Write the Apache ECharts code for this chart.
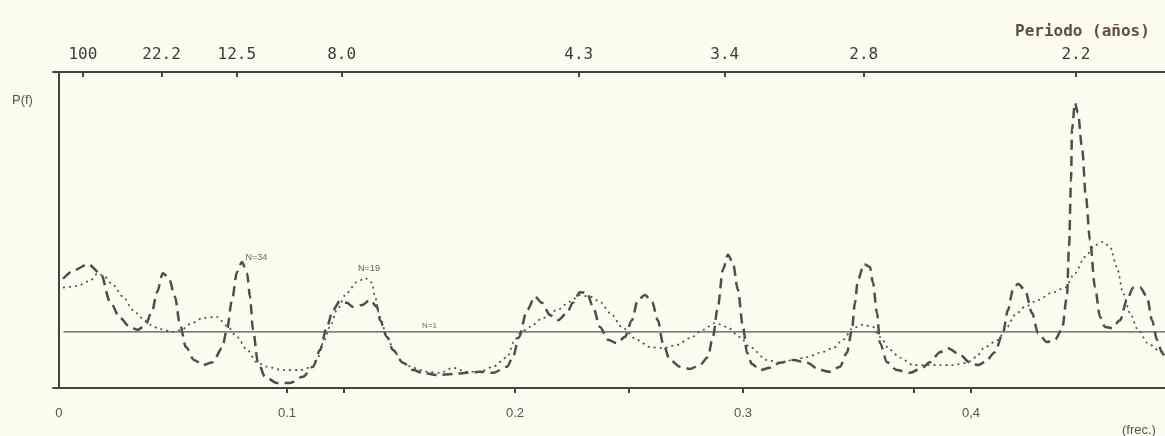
<!DOCTYPE html>
<html>
<head>
<meta charset="utf-8">
<script src="https://cdn.jsdelivr.net/npm/echarts@6/dist/echarts.min.js"></script>
<style>
  html, body { margin: 0; padding: 0; background: #fdfdef; }
  #spectro { width: 1165px; height: 436px; }
</style>
</head>
<body>
<div id="spectro"></div>
<script>
// frecuencia (ciclos/año) y densidad espectral P(f), nivel N=1 = 1
var n34Freq = [0.0018,0.0070,0.0127,0.0184,0.0224,0.0268,0.0311,0.0346,0.0377,0.0408,
  0.0430,0.0456,0.0482,0.0509,0.0531,0.0557,0.0592,0.0632,0.0675,0.0715,
  0.0737,0.0759,0.0781,0.0803,0.0825,0.0838,0.0851,0.0873,0.0904,0.0956,
  0.1013,0.1070,0.1114,0.1145,0.1175,0.1202,0.1232,0.1263,0.1289,0.1329,
  0.1364,0.1395,0.1408,0.1439,0.1465,0.1509,0.1553,0.1596,0.1658,0.1728,
  0.1789,0.1846,0.1904,0.1965,0.1991,0.2018,0.2053,0.2088,0.2118,0.2154,
  0.2189,0.2228,0.2254,0.2285,0.2316,0.2342,0.2373,0.2408,0.2447,0.2482,
  0.2513,0.2539,0.2570,0.2601,0.2627,0.2649,0.2680,0.2724,0.2768,0.2811,
  0.2846,0.2868,0.2890,0.2912,0.2934,0.2956,0.2978,0.3000,0.3018,0.3039,
  0.3075,0.3118,0.3162,0.3219,0.3281,0.3338,0.3382,0.3425,0.3456,0.3478,
  0.3491,0.3504,0.3531,0.3557,0.3570,0.3588,0.3601,0.3632,0.3675,0.3732,
  0.3785,0.3820,0.3864,0.3899,0.3952,0.3996,0.4031,0.4061,0.4105,0.4140,
  0.4162,0.4184,0.4206,0.4237,0.4268,0.4294,0.4333,0.4368,0.4399,0.4421,
  0.4430,0.4439,0.4443,0.4456,0.4469,0.4487,0.4504,0.4522,0.4544,0.4566,
  0.4588,0.4618,0.4654,0.4684,0.4711,0.4741,0.4772,0.4794,0.4816,0.4838,
  0.4851];
var n34Power = [1.95,2.11,2.21,2.04,1.54,1.25,1.09,1.04,1.11,1.36,
  1.71,2.05,1.96,1.63,1.13,0.73,0.50,0.41,0.46,0.71,
  1.04,1.57,2.07,2.25,2.05,1.63,1.04,0.46,0.20,0.09,
  0.09,0.20,0.38,0.68,1.09,1.39,1.55,1.52,1.45,1.48,
  1.57,1.45,1.21,0.91,0.68,0.45,0.32,0.27,0.23,0.25,
  0.27,0.29,0.27,0.38,0.55,0.91,1.39,1.63,1.52,1.30,
  1.21,1.34,1.52,1.71,1.70,1.45,1.09,0.86,0.80,0.91,
  1.21,1.57,1.66,1.54,1.21,0.80,0.50,0.38,0.34,0.41,
  0.55,0.91,1.45,2.11,2.38,2.23,1.75,1.09,0.63,0.43,
  0.32,0.36,0.45,0.50,0.45,0.32,0.29,0.38,0.63,1.04,
  1.52,1.93,2.21,2.16,1.88,1.34,0.80,0.46,0.32,0.27,
  0.36,0.46,0.64,0.71,0.59,0.45,0.41,0.46,0.64,0.98,
  1.39,1.75,1.86,1.75,1.34,0.98,0.82,0.86,1.04,1.63,
  2.52,3.71,4.61,5.09,4.91,4.30,3.41,2.64,1.80,1.27,
  1.09,1.07,1.21,1.57,1.79,1.80,1.63,1.21,0.86,0.63,
  0.54];

var n19Freq = [0.0018,0.0079,0.0136,0.0171,0.0202,0.0237,0.0281,0.0325,0.0364,0.0399,
  0.0443,0.0496,0.0539,0.0575,0.0632,0.0693,0.0737,0.0781,0.0825,0.0868,
  0.0912,0.0982,0.1057,0.1114,0.1132,0.1158,0.1189,0.1219,0.1263,0.1307,
  0.1342,0.1373,0.1386,0.1408,0.1439,0.1474,0.1509,0.1553,0.1614,0.1671,
  0.1728,0.1789,0.1846,0.1904,0.1965,0.2000,0.2022,0.2066,0.2123,0.2184,
  0.2241,0.2285,0.2329,0.2373,0.2417,0.2474,0.2535,0.2592,0.2649,0.2711,
  0.2768,0.2825,0.2877,0.2930,0.2987,0.3031,0.3105,0.3162,0.3219,0.3281,
  0.3338,0.3395,0.3439,0.3482,0.3526,0.3570,0.3601,0.3645,0.3689,0.3746,
  0.3807,0.3864,0.3921,0.3982,0.4022,0.4061,0.4118,0.4158,0.4193,0.4237,
  0.4294,0.4355,0.4412,0.4456,0.4500,0.4544,0.4579,0.4610,0.4640,0.4667,
  0.4697,0.4732,0.4776,0.4820,0.4851];
var n19Power = [1.79,1.82,1.91,2.05,1.98,1.84,1.63,1.39,1.25,1.13,
  1.05,1.00,1.04,1.14,1.25,1.27,1.11,0.91,0.68,0.46,
  0.38,0.32,0.32,0.38,0.50,0.80,1.09,1.39,1.70,1.89,
  1.96,1.88,1.63,1.27,0.91,0.63,0.45,0.36,0.29,0.27,
  0.36,0.29,0.29,0.38,0.55,0.86,0.98,1.09,1.25,1.39,
  1.54,1.66,1.63,1.54,1.34,1.07,0.86,0.73,0.71,0.77,
  0.89,1.04,1.16,1.09,0.91,0.73,0.50,0.45,0.50,0.55,
  0.63,0.71,0.86,1.07,1.13,1.09,0.91,0.68,0.54,0.41,
  0.41,0.41,0.41,0.45,0.55,0.73,0.86,1.09,1.30,1.45,
  1.57,1.70,1.79,2.05,2.34,2.55,2.61,2.52,2.16,1.70,
  1.34,1.04,0.80,0.68,0.63];

var n1Freq = [0.002, 0.4851];
var n1Power = [1, 1];

// eje inferior (frecuencia) y eje superior (periodo en años)
var freqTicks = [0.1, 0.125, 0.2, 0.25, 0.3, 0.375, 0.4];
var freqLabelValues = [0, 0.1, 0.2, 0.3, 0.4];
var freqLabels = ['0', '0.1', '0.2', '0.3', '0,4'];
var periodFreqs = [0.0105, 0.045, 0.078, 0.124, 0.228, 0.292, 0.353, 0.446];
var periodLabels = ['100', '22.2', '12.5', '8.0', '4.3', '3.4', '2.8', '2.2'];

function pairs(xs, ys) {
  return xs.map(function (x, i) { return [x, ys[i]]; });
}
function pick(values, labels) {
  return function (v) {
    for (var i = 0; i < values.length; i++) {
      if (Math.abs(values[i] - v) < 1e-6) return labels[i];
    }
    return '';
  };
}

var ink = '#4f4f4a';
var chart = echarts.init(document.getElementById('spectro'));
var option = {
  backgroundColor: '#fdfdef',
  animation: false,
  title: [{
    text: 'Periodo (años)',
    left: 1010, top: 19,
    textStyle: { fontFamily: 'DejaVu Sans Mono', fontSize: 16, fontWeight: 'bold', color: '#5b5040' }
  }, {
    text: 'P(f)',
    left: 7, top: 89,
    textStyle: { fontFamily: 'Liberation Sans', fontSize: 13, fontWeight: 'normal', color: '#55554f' }
  }, {
    text: '(frec.)',
    left: 1117, top: 419,
    textStyle: { fontFamily: 'Liberation Sans', fontSize: 13, fontWeight: 'normal', color: '#55554f' }
  }],
  grid: { left: 53, right: 0, top: 72, bottom: 48 },
  xAxis: [{
    type: 'value',
    position: 'bottom',
    min: -0.0026, max: 0.4851,
    axisLine: { lineStyle: { color: '#44443f', width: 2 } },
    axisTick: { show: true, customValues: freqTicks, length: 5, lineStyle: { color: '#44443f', width: 2 } },
    axisLabel: {
      customValues: freqLabelValues,
      formatter: pick(freqLabelValues, freqLabels),
      margin: 19,
      fontFamily: 'Liberation Sans', fontSize: 13, color: '#55554f'
    },
    splitLine: { show: false }
  }, {
    type: 'value',
    position: 'top',
    min: -0.0026, max: 0.4851,
    axisLine: { lineStyle: { color: '#44443f', width: 2 } },
    axisTick: { show: true, inside: true, customValues: periodFreqs, length: 5, lineStyle: { color: '#44443f', width: 2 } },
    axisLabel: {
      customValues: periodFreqs,
      formatter: pick(periodFreqs, periodLabels),
      margin: 9,
      fontFamily: 'DejaVu Sans Mono', fontSize: 16, color: '#3d3d38'
    },
    splitLine: { show: false }
  }],
  yAxis: {
    type: 'value',
    min: 0, max: 5.64,
    axisLine: { show: true, lineStyle: { color: '#44443f', width: 2 } },
    axisTick: { show: false },
    axisLabel: { show: false },
    splitLine: { show: false }
  },
  series: [{
    name: 'N=1',
    type: 'line',
    data: pairs(n1Freq, n1Power),
    showSymbol: false,
    lineStyle: { color: '#55554f', width: 1.3 },
    markPoint: {
      symbol: 'circle', symbolSize: 1,
      itemStyle: { color: 'rgba(0,0,0,0)' },
      label: { show: true, position: 'right', distance: 0, fontSize: 8, color: '#6a6a64', formatter: '{b}' },
      data: [{ name: 'N=1', coord: [0.159, 1.11] }]
    }
  }, {
    name: 'N=19',
    type: 'line',
    data: pairs(n19Freq, n19Power),
    showSymbol: false,
    smooth: 0.3,
    smoothMonotone: 'x',
    lineStyle: { color: '#4f4f4a', width: 1.7, type: [2, 4] },
    markPoint: {
      symbol: 'circle', symbolSize: 1,
      itemStyle: { color: 'rgba(0,0,0,0)' },
      label: { show: true, position: 'right', distance: 0, fontSize: 9, color: '#5a5a54', formatter: '{b}' },
      data: [{ name: 'N=19', coord: [0.131, 2.14] }]
    }
  }, {
    name: 'N=34',
    type: 'line',
    data: pairs(n34Freq, n34Power),
    showSymbol: false,
    smooth: 0.3,
    smoothMonotone: 'x',
    lineStyle: { color: ink, width: 2.5, type: [10, 6] },
    markPoint: {
      symbol: 'circle', symbolSize: 1,
      itemStyle: { color: 'rgba(0,0,0,0)' },
      label: { show: true, position: 'right', distance: 0, fontSize: 9, color: '#6a6a64', formatter: '{b}' },
      data: [{ name: 'N=34', coord: [0.0816, 2.32] }]
    }
  }]
};
chart.setOption(option);
</script>
</body>
</html>
